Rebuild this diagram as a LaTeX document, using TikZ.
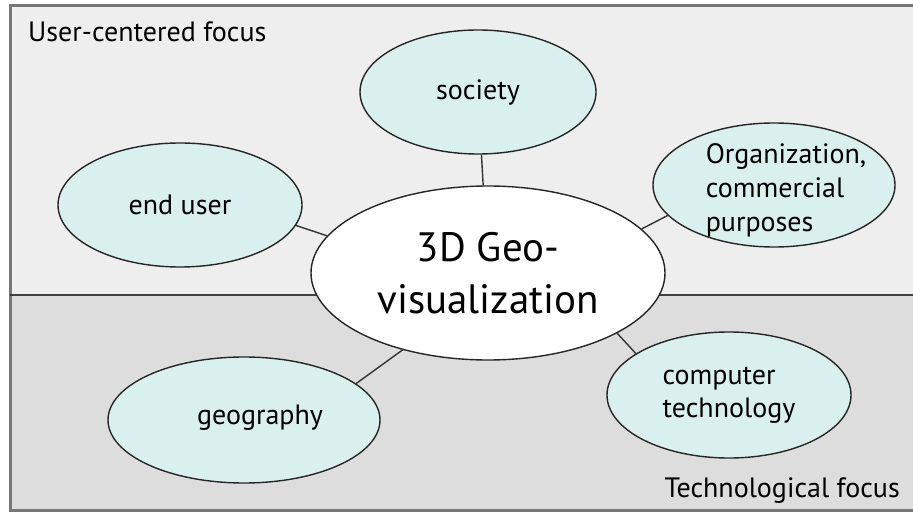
\documentclass[tikz,border=0pt]{standalone}
\usepackage{fontspec}
\setmainfont{PT Sans}
\usetikzlibrary{shapes.geometric}

\definecolor{upperbg}{HTML}{EEEEEE}
\definecolor{lowerbg}{HTML}{DDDDDD}
\definecolor{topicfill}{HTML}{DAF0EE}
\definecolor{framegray}{HTML}{777777}

\begin{document}
\begin{tikzpicture}[x=1pt, y=-1pt,
  topic/.style={ellipse, draw=black!85, line width=1.4pt, fill=topicfill,
    inner sep=0pt, font=\fontsize{28}{33}\selectfont, align=left},
  link/.style={draw=black!80, line width=1.4pt}]

  % Canvas and the two focus areas
  \useasboundingbox (0,0) rectangle (913,513);
  \fill[upperbg] (10,6) rectangle (913,295);
  \fill[lowerbg] (10,295) rectangle (913,510);
  \draw[framegray, line width=3pt] (913,510) -- (10,510) -- (10,6) -- (913,6);
  \draw[black!75, line width=2pt] (10,295) -- (913,295);

  % Area labels
  \node[anchor=base west, inner sep=0pt, font=\fontsize{28}{33}\selectfont]
    (userfocus) at (28,42) {User-centered focus};
  \node[anchor=base east, inner sep=0pt, font=\fontsize{28}{33}\selectfont]
    (techfocus) at (900,497) {Technological focus};

  % Central topic
  \node[topic, fill=white, minimum width=354pt, minimum height=174pt,
    align=center, font=\fontsize{41}{52}\selectfont]
    (geovis) at (488,273) {3D Geo-\\visualization};

  % Surrounding topics
  \node[topic, minimum width=236pt, minimum height=124pt] (society) at (478,92) {society};
  \node[topic, minimum width=244pt, minimum height=124pt] (enduser) at (180,205) {end user};
  \node[topic, minimum width=242pt, minimum height=124pt] (organization) at (774,185) {};
  \node[align=left, inner sep=0pt, font=\fontsize{28}{34}\selectfont]
    (orgtext) at (786,190) {Organization,\\commercial\\purposes};
  \node[topic, minimum width=272pt, minimum height=126pt] (geography) at (244,420) {};
  \node[inner sep=0pt, font=\fontsize{28}{33}\selectfont]
    (geotext) at (260,418) {geography};
  \node[topic, minimum width=244pt, minimum height=126pt] (computer) at (729,395) {computer\\technology};

  % Links to the centre
  \draw[link] (society) -- (geovis);
  \draw[link] (enduser.-10) -- (geovis.167);
  \draw[link] (organization.196) -- (geovis.16);
  \draw[link] (geography.18) -- (geovis.222);
  \draw[link] (computer.156) -- (geovis.-25);

\end{tikzpicture}
\end{document}
